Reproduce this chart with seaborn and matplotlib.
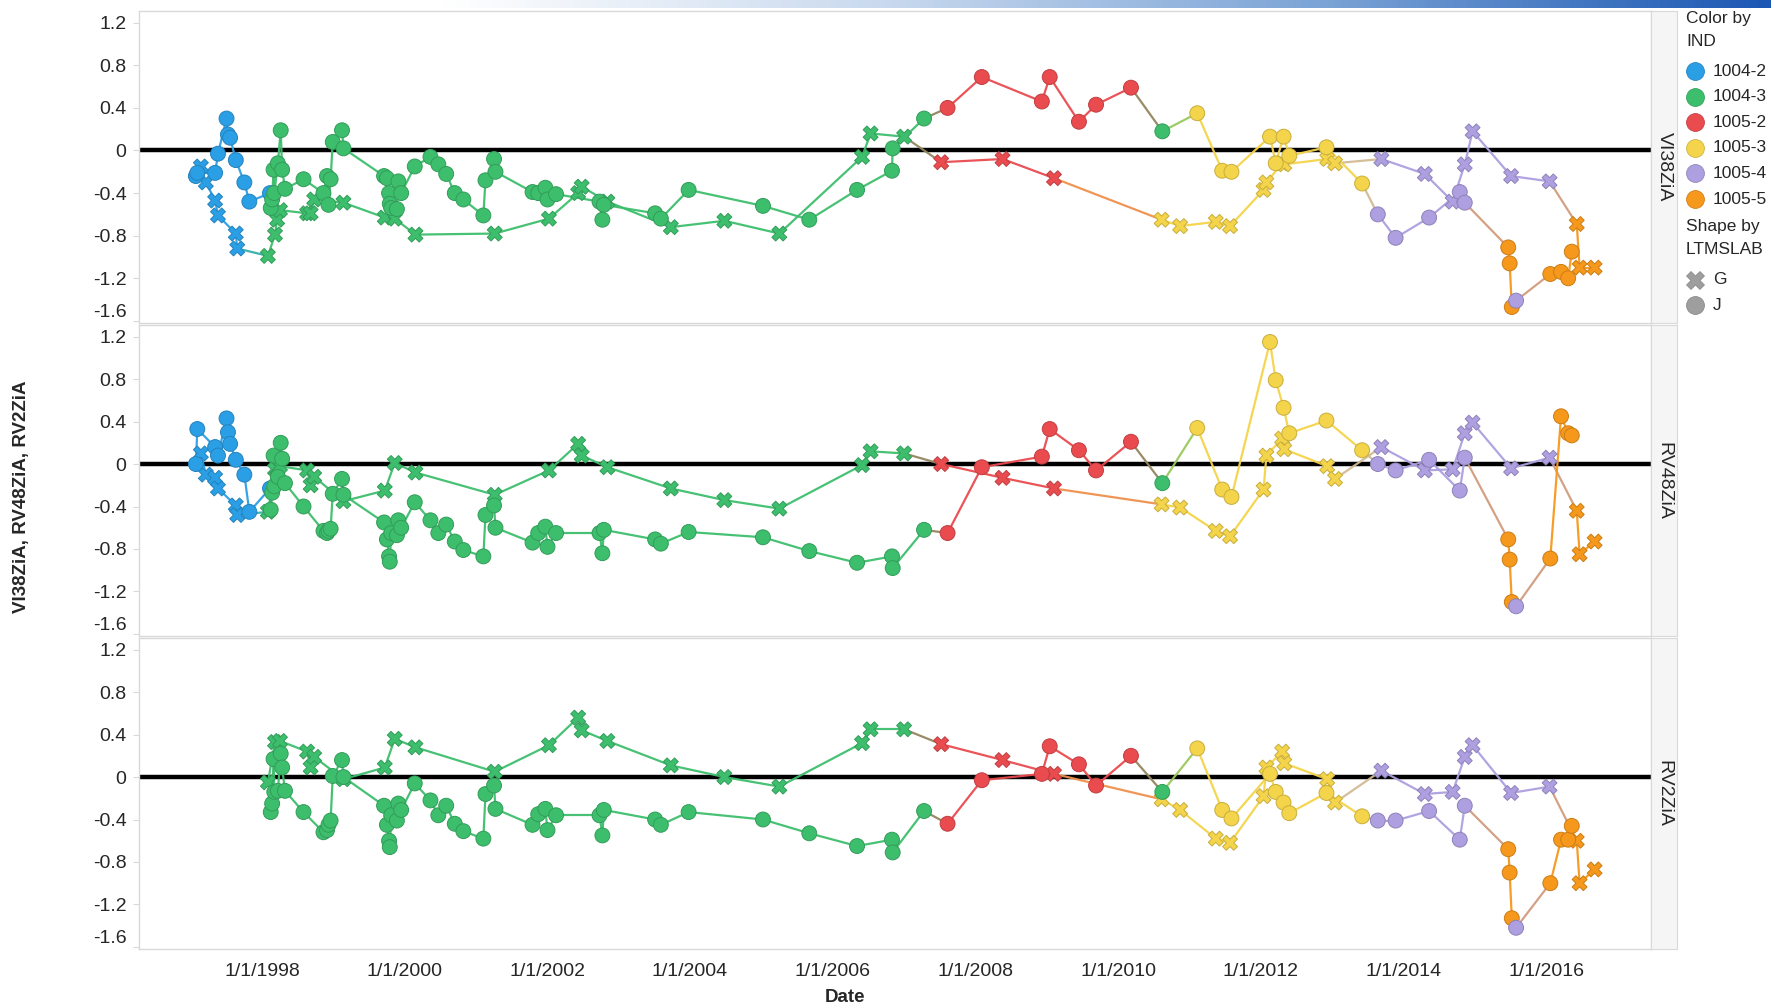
import numpy as np
import pandas as pd
import matplotlib
matplotlib.use("Agg")
import matplotlib.pyplot as plt
import matplotlib.dates as mdates
from matplotlib.collections import LineCollection
from matplotlib.colors import to_rgb, LinearSegmentedColormap
import seaborn as sns

nan = np.nan

# ---------------- data ----------------
IND_ORDER = ['1004-2', '1004-3', '1005-2', '1005-3', '1005-4', '1005-5']
IND_COLORS = ['#2b9fe6', '#3dbe6d', '#e94b4f', '#f4d44a', '#ad9fe0', '#f6981b']
MEASURES = ['VI38ZiA', 'RV48ZiA', 'RV2ZiA']
YTICKS = [1.2, 0.8, 0.4, 0.0, -0.4, -0.8, -1.2, -1.6]
YTICK_LABELS = ['1.2', '0.8', '0.4', '0', '-0.4', '-0.8', '-1.2', '-1.6']
XTICK_YEARS = [1998, 2000, 2002, 2004, 2006, 2008, 2010, 2012, 2014, 2016]
XTICK_LABELS = ['1/1/1998', '1/1/2000', '1/1/2002', '1/1/2004', '1/1/2006',
                '1/1/2008', '1/1/2010', '1/1/2012', '1/1/2014', '1/1/2016']

# LTMSLAB = G  (dates as decimal years)
g_dates = [1997.14, 1997.21, 1997.34, 1997.38, 1997.63, 1997.65,
           1998.08, 1998.18, 1998.21, 1998.25, 1998.63, 1998.68, 1998.73, 1999.14, 1999.72, 1999.86,
           2000.15, 2001.26, 2002.02, 2002.43, 2002.48, 2002.84, 2003.73, 2004.48, 2005.25, 2006.41,
           2006.53, 2007.00,
           2007.52, 2008.38, 2009.10,
           2010.61, 2010.87, 2011.37, 2011.57, 2012.04, 2012.08, 2012.30, 2012.33, 2012.93, 2013.04,
           2013.69, 2014.30, 2014.69, 2014.86, 2014.97, 2015.51, 2016.05,
           2016.43, 2016.47, 2016.68]
g_ind = (['1004-2'] * 6 + ['1004-3'] * 22 + ['1005-2'] * 3 + ['1005-3'] * 10
         + ['1005-4'] * 7 + ['1005-5'] * 3)
g_vi38 = [-0.15, -0.30, -0.47, -0.61, -0.78, -0.92,
          -0.99, -0.79, -0.65, -0.56, -0.59, -0.59, -0.46, -0.49, -0.63, -0.64,
          -0.79, -0.78, -0.64, -0.40, -0.34, -0.48, -0.72, -0.66, -0.78, -0.06, 0.16, 0.13,
          -0.11, -0.08, -0.26,
          -0.65, -0.71, -0.67, -0.71, -0.37, -0.30, -0.12, -0.13, -0.08, -0.12,
          -0.08, -0.22, -0.48, -0.13, 0.18, -0.24, -0.29,
          -0.69, -1.10, -1.10]
g_rv48 = [0.10, -0.10, -0.13, -0.23, -0.39, -0.48,
          -0.45, -0.05, -0.12, -0.02, -0.06, -0.20, -0.12, -0.35, -0.25, 0.01,
          -0.08, -0.29, -0.06, 0.19, 0.08, -0.03, -0.23, -0.34, -0.42, -0.01, 0.12, 0.10,
          0.00, -0.13, -0.23,
          -0.38, -0.41, -0.63, -0.68, -0.24, 0.08, 0.24, 0.14, -0.02, -0.14,
          0.16, -0.06, -0.05, 0.29, 0.39, -0.04, 0.06,
          -0.44, -0.85, -0.73]
g_rv2 = [nan, nan, nan, nan, nan, nan,
         -0.05, 0.33, 0.17, 0.34, 0.24, 0.09, 0.19, -0.02, 0.09, 0.36,
         0.28, 0.05, 0.30, 0.56, 0.44, 0.34, 0.11, 0.00, -0.09, 0.32, 0.45, 0.45,
         0.31, 0.16, 0.03,
         -0.21, -0.31, -0.58, -0.62, -0.18, 0.09, 0.24, 0.13, -0.02, -0.24,
         0.06, -0.16, -0.14, 0.19, 0.30, -0.15, -0.09,
         -0.60, -1.00, -0.87]

# LTMSLAB = J
j_dates = [1997.07, 1997.09, 1997.34, 1997.38, 1997.50, 1997.52, 1997.55, 1997.63, 1997.75, 1997.82, 1998.11,
           1998.12, 1998.14, 1998.16, 1998.17, 1998.22, 1998.26, 1998.28, 1998.32,
           1998.58, 1998.86, 1998.91, 1998.93, 1998.96, 1998.99, 1999.12, 1999.14,
           1999.71, 1999.75, 1999.78, 1999.79, 1999.81, 1999.89, 1999.91, 1999.95,
           2000.14, 2000.36, 2000.47, 2000.58, 2000.70, 2000.82,
           2001.10, 2001.13, 2001.25, 2001.27, 2001.79, 2001.87, 2001.97, 2002.00, 2002.12,
           2002.73, 2002.77, 2002.79, 2003.51, 2003.59, 2003.98, 2005.02, 2005.67, 2006.34,
           2006.83, 2006.84, 2007.28,
           2007.61, 2008.09, 2008.93, 2009.04, 2009.45, 2009.69, 2010.18,
           2010.62,
           2011.11, 2011.46, 2011.59, 2012.13, 2012.21, 2012.32, 2012.40, 2012.92, 2013.42,
           2013.64, 2013.89, 2014.36, 2014.79, 2014.86,
           2015.47, 2015.49, 2015.52,
           2015.58,
           2016.06, 2016.21, 2016.31, 2016.36]
j_ind = (['1004-2'] * 11 + ['1004-3'] * 51 + ['1005-2'] * 7 + ['1004-3'] + ['1005-3'] * 9
         + ['1005-4'] * 5 + ['1005-5'] * 3 + ['1005-4'] + ['1005-5'] * 4)
j_vi38 = [-0.24, -0.21, -0.21, -0.03, 0.30, 0.15, 0.12, -0.09, -0.30, -0.48, -0.40,
          -0.54, -0.46, -0.18, -0.40, -0.12, 0.19, -0.18, -0.36,
          -0.27, -0.40, -0.24, -0.51, -0.27, 0.08, 0.19, 0.02,
          -0.24, -0.26, -0.40, -0.50, -0.54, -0.55, -0.29, -0.40,
          -0.15, -0.06, -0.13, -0.22, -0.40, -0.46,
          -0.61, -0.28, -0.08, -0.20, -0.39, -0.40, -0.35, -0.46, -0.41,
          -0.48, -0.65, -0.51, -0.59, -0.64, -0.37, -0.52, -0.65, -0.37, -0.19, 0.02, 0.30,
          0.40, 0.69, 0.46, 0.69, 0.27, 0.43, 0.59,
          0.18,
          0.35, -0.19, -0.20, 0.13, -0.12, 0.13, -0.05, 0.03, -0.31,
          -0.60, -0.82, -0.63, -0.39, -0.49,
          -0.91, -1.06, -1.47,
          -1.41,
          -1.16, -1.14, -1.20, -0.95]
j_rv48 = [0.00, 0.33, 0.16, 0.08, 0.43, 0.30, 0.19, 0.04, -0.10, -0.45, -0.23,
          -0.43, -0.27, 0.08, -0.21, -0.12, 0.20, 0.05, -0.18,
          -0.40, -0.63, -0.65, -0.63, -0.61, -0.28, -0.14, -0.29,
          -0.55, -0.71, -0.87, -0.92, -0.65, -0.67, -0.53, -0.60,
          -0.36, -0.53, -0.65, -0.57, -0.73, -0.81,
          -0.87, -0.48, -0.39, -0.60, -0.74, -0.65, -0.59, -0.78, -0.65,
          -0.65, -0.84, -0.62, -0.71, -0.75, -0.64, -0.69, -0.82, -0.93, -0.87, -0.98, -0.62,
          -0.65, -0.03, 0.07, 0.33, 0.13, -0.06, 0.21,
          -0.18,
          0.34, -0.24, -0.31, 1.15, 0.79, 0.53, 0.29, 0.41, 0.13,
          0.00, -0.06, 0.04, -0.25, 0.06,
          -0.71, -0.90, -1.30,
          -1.34,
          -0.89, 0.45, 0.29, 0.27]
j_rv2 = [nan, nan, nan, nan, nan, nan, nan, nan, nan, nan, nan,
         -0.33, -0.25, 0.17, -0.14, -0.13, 0.22, 0.09, -0.13,
         -0.33, -0.52, -0.50, -0.45, -0.41, 0.01, 0.16, 0.00,
         -0.27, -0.45, -0.60, -0.66, -0.36, -0.41, -0.25, -0.31,
         -0.06, -0.22, -0.36, -0.27, -0.44, -0.51,
         -0.58, -0.16, -0.08, -0.30, -0.45, -0.35, -0.30, -0.50, -0.36,
         -0.36, -0.55, -0.31, -0.40, -0.45, -0.33, -0.40, -0.53, -0.65, -0.59, -0.71, -0.32,
         -0.44, -0.03, 0.03, 0.29, 0.12, -0.08, 0.20,
         -0.14,
         0.27, -0.31, -0.39, 0.03, -0.14, -0.24, -0.34, -0.15, -0.37,
         -0.41, -0.41, -0.32, -0.59, -0.27,
         -0.68, -0.90, -1.33,
         -1.42,
         -1.00, -0.59, -0.59, -0.46]


def dec_to_date(y):
    yi = int(np.floor(y))
    start = pd.Timestamp(year=yi, month=1, day=1)
    end = pd.Timestamp(year=yi + 1, month=1, day=1)
    return start + (end - start) * (y - yi)


rows = []
for lab, dates, inds, series in [
        ('G', g_dates, g_ind, [g_vi38, g_rv48, g_rv2]),
        ('J', j_dates, j_ind, [j_vi38, j_rv48, j_rv2])]:
    for i, d in enumerate(dates):
        for m, vals in zip(MEASURES, series):
            rows.append(dict(Date=dec_to_date(d), IND=inds[i], LTMSLAB=lab,
                             Measure=m, Value=vals[i], order=i))
df = pd.DataFrame(rows)

palette = dict(zip(IND_ORDER, IND_COLORS))

# ---------------- figure ----------------
W, H = 1771, 1008
sns.set_style('white')
plt.rcParams['font.family'] = ['Liberation Sans', 'DejaVu Sans']
fig = plt.figure(figsize=(W / 100, H / 100), dpi=100)


def fax(x0, y0, x1, y1):
    return [x0 / W, 1 - y1 / H, (x1 - x0) / W, (y1 - y0) / H]


# gradient band on top
gax = fig.add_axes(fax(0, 0, W, 8))
cmap = LinearSegmentedColormap.from_list('band', ['#ffffff', '#ffffff', '#c9d9ee', '#7ba3d6', '#1b57b3'])
grad = np.linspace(0, 1, 512)[None, :]
gax.imshow(grad, aspect='auto', cmap=cmap, extent=[0, 1, 0, 1])
gax.axis('off')

panel_y = [(11, 323), (325, 636), (638, 949)]
X0, X1 = 139, 1651
xlim = (mdates.date2num(dec_to_date(1996.274)), mdates.date2num(dec_to_date(2017.47)))
grey = '#d9d9d9'

for k, (m, (ya, yb)) in enumerate(zip(MEASURES, panel_y)):
    ax = fig.add_axes(fax(X0, ya, X1, yb))
    d = df[(df.Measure == m)].dropna(subset=['Value'])
    # connecting paths per LTMSLAB, coloured by IND (blended between INDs)
    for lab in ['G', 'J']:
        s = d[d.LTMSLAB == lab].sort_values(['Date', 'order'], kind='mergesort')
        xs = mdates.date2num(s.Date)
        ys = s.Value.values
        inds = s.IND.values
        segs = [[(xs[i], ys[i]), (xs[i + 1], ys[i + 1])] for i in range(len(xs) - 1)]
        cols = [tuple((np.array(to_rgb(palette[inds[i]])) + np.array(to_rgb(palette[inds[i + 1]]))) / 2)
                for i in range(len(xs) - 1)]
        ax.add_collection(LineCollection(segs, colors=cols, linewidths=1.6, alpha=0.95, zorder=2))
    ax.axhline(0, color='black', lw=3.2, zorder=1.5)
    n_before = len(ax.collections)
    sns.scatterplot(data=d, x='Date', y='Value', hue='IND', hue_order=IND_ORDER,
                    palette=palette, style='LTMSLAB', markers={'G': 'X', 'J': 'o'},
                    style_order=['G', 'J'], s=115, linewidth=0.7,
                    legend=False, ax=ax, zorder=3)
    # subtle darker outline in the marker's own hue
    for coll in ax.collections[n_before:]:
        fc = np.array(coll.get_facecolors())
        if len(fc):
            ec = fc.copy()
            ec[:, :3] = ec[:, :3] * 0.82
            coll.set_edgecolors(ec)
    ax.set_xlim(*xlim)
    ax.set_ylim(-1.62, 1.31)
    ax.set_yticks(YTICKS)
    ax.set_yticklabels(YTICK_LABELS, fontsize=14)
    ax.get_yticklabels()[-1].set_va('bottom')
    xt = [mdates.date2num(pd.Timestamp(year=y, month=1, day=1)) for y in XTICK_YEARS]
    ax.set_xticks(xt)
    if k == 2:
        ax.set_xticklabels(XTICK_LABELS, fontsize=14)
        ax.tick_params(axis='x', length=4, color=grey, pad=6)
    else:
        ax.set_xticklabels([])
        ax.tick_params(axis='x', length=0)
    ax.tick_params(axis='y', length=4, color=grey, pad=5, left=True)
    ax.set_xlabel('')
    ax.set_ylabel('')
    for sp in ax.spines.values():
        sp.set_color(grey)
        sp.set_linewidth(1.0)
    # facet strip
    sax = fig.add_axes(fax(X1, ya, 1677, yb))
    sax.set_facecolor('#f5f5f5')
    sax.set_xticks([])
    sax.set_yticks([])
    for sp in sax.spines.values():
        sp.set_color(grey)
    sax.text(0.5, 0.5, m, rotation=270, ha='center', va='center', fontsize=14,
             transform=sax.transAxes)

fig.text(22 / W, 1 - 497 / H, 'VI38ZiA, RV48ZiA, RV2ZiA', rotation=90, ha='center',
         va='center', fontsize=13.5, fontweight='bold')
fig.text(845 / W, 1 - 998 / H, 'Date', ha='center', va='center', fontsize=13.5,
         fontweight='bold')

# legend
lax = fig.add_axes(fax(1680, 9, W, 330))
lax.set_xlim(1680, W)
lax.set_ylim(330, 9)
lax.axis('off')
lax.text(1686, 19, 'Color by', fontsize=12.5, va='center', ha='left')
lax.text(1686, 41, 'IND', fontsize=12.5, va='center', ha='left')
for i, (ind, c) in enumerate(zip(IND_ORDER, IND_COLORS)):
    yy = 71 + i * 25.6
    ec = tuple(np.array(to_rgb(c)) * 0.85)
    lax.scatter([1695], [yy], s=165, color=c, edgecolor=ec, linewidth=0.6)
    lax.text(1713, yy, ind, fontsize=12.5, va='center', ha='left')
lax.text(1686, 227, 'Shape by', fontsize=12.5, va='center', ha='left')
lax.text(1686, 250, 'LTMSLAB', fontsize=12.5, va='center', ha='left')
lax.scatter([1695], [280], s=165, marker='X', color='#9e9e9e', edgecolor='#8a8a8a', linewidth=0.6)
lax.text(1713, 280, 'G', fontsize=12.5, va='center', ha='left')
lax.scatter([1695], [305], s=165, marker='o', color='#9e9e9e', edgecolor='#8a8a8a', linewidth=0.6)
lax.text(1713, 305, 'J', fontsize=12.5, va='center', ha='left')

fig.savefig('out.png', dpi=100)
